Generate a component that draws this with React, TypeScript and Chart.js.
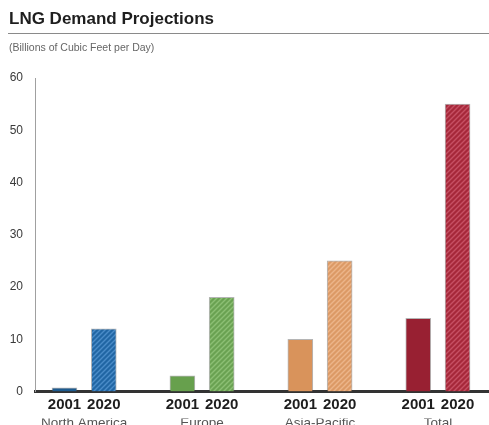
import React, { useEffect, useRef } from "react";
import { Chart, registerables } from "chart.js";

Chart.register(...registerables);

// LNG demand, billions of cubic feet per day
const regions = ["North America", "Europe", "Asia-Pacific", "Total"];
const years = ["2001", "2020"];
const demand2001 = [0.7, 3, 10, 14];
const demand2020 = [12, 18, 25, 55];
const yTicks = [0, 10, 20, 30, 40, 50, 60];

const solidColors = ["#1d5b8f", "#67a04d", "#d9935b", "#982032"];
const hatchBase = ["#2166a4", "#6aa252", "#dc9a66", "#a6283a"];
const hatchStripe = ["#4a8cc8", "#8cbf74", "#ecb58a", "#c65064"];

function makeHatch(base: string, stripe: string): CanvasPattern | string {
  const size = 5;
  const c = document.createElement("canvas");
  c.width = size;
  c.height = size;
  const ctx = c.getContext("2d");
  if (!ctx) return base;
  ctx.fillStyle = base;
  ctx.fillRect(0, 0, size, size);
  ctx.strokeStyle = stripe;
  ctx.lineWidth = 1.4;
  ctx.beginPath();
  ctx.moveTo(0, size);
  ctx.lineTo(size, 0);
  ctx.moveTo(-1, 1);
  ctx.lineTo(1, -1);
  ctx.moveTo(size - 1, size + 1);
  ctx.lineTo(size + 1, size - 1);
  ctx.stroke();
  return ctx.createPattern(c, "repeat") || base;
}

// thin rule under the title
const titleRule = {
  id: "titleRule",
  beforeDraw(chart: Chart) {
    const { ctx, width } = chart;
    ctx.save();
    ctx.strokeStyle = "#8a8a8a";
    ctx.lineWidth = 1.2;
    ctx.beginPath();
    ctx.moveTo(8, 33.5);
    ctx.lineTo(width, 33.5);
    ctx.stroke();
    ctx.restore();
  },
};

const barSlot = (group: number, yearIdx: number) => group * 3 + yearIdx;

export default function App() {
  const ref = useRef<HTMLCanvasElement | null>(null);

  useEffect(() => {
    if (!ref.current) return;
    const yearPositions: number[] = [];
    const yearLabels: string[] = [];
    regions.forEach((_, g) => {
      years.forEach((yr, k) => {
        yearPositions.push(barSlot(g, k));
        yearLabels.push(yr);
      });
    });
    const regionPositions = regions.map((_, g) => barSlot(g, 0.5));

    const chart = new Chart(ref.current, {
      type: "bar",
      data: {
        datasets: [
          {
            label: years[0],
            data: demand2001.map((v, i) => ({ x: barSlot(i, 0), y: v })),
            backgroundColor: solidColors,
            borderColor: "rgba(90,90,90,0.45)",
            borderWidth: 1,
            barThickness: 25,
            grouped: false,
          },
          {
            label: years[1],
            data: demand2020.map((v, i) => ({ x: barSlot(i, 1), y: v })),
            backgroundColor: hatchBase.map((b, i) => makeHatch(b, hatchStripe[i])),
            borderColor: "rgba(90,90,90,0.45)",
            borderWidth: 1,
            barThickness: 25,
            grouped: false,
          },
        ],
      },
      options: {
        animation: false,
        responsive: false,
        devicePixelRatio: 1,
        layout: { padding: { left: 9, right: 0, top: 0, bottom: -3 } },
        plugins: {
          legend: { display: false },
          tooltip: { enabled: false },
          title: {
            display: true,
            text: "LNG Demand Projections",
            align: "start",
            color: "#1e1e1e",
            font: { family: "Liberation Sans", size: 17, weight: "bold", lineHeight: 1.2 },
            padding: { top: 9, bottom: 12 },
          },
          subtitle: {
            display: true,
            text: "(Billions of Cubic Feet per Day)",
            align: "start",
            color: "#666",
            font: { family: "Liberation Sans", size: 10.5, lineHeight: 1.2 },
            padding: { top: 0, bottom: 24 },
          },
        },
        scales: {
          x: {
            type: "linear",
            position: "bottom",
            offset: false,
            min: -0.75,
            max: 10.8,
            grid: { display: false, drawTicks: false, offset: false },
            border: { display: true, color: "#333", width: 3 },
            afterBuildTicks: (scale: any) => {
              scale.ticks = yearPositions.map((v) => ({ value: v }));
            },
            ticks: {
              autoSkip: false,
              maxRotation: 0,
              padding: 6,
              color: "#1e1e1e",
              font: { family: "Liberation Sans", size: 15, weight: "bold", lineHeight: 1 },
              callback: (value: any) => {
                const idx = yearPositions.indexOf(Number(value));
                return idx >= 0 ? yearLabels[idx] : "";
              },
            },
          },
          x2: {
            type: "linear",
            position: "bottom",
            offset: false,
            min: -0.75,
            max: 10.8,
            grid: { display: false, drawTicks: false, offset: false },
            border: { display: false },
            afterBuildTicks: (scale: any) => {
              scale.ticks = regionPositions.map((v) => ({ value: v }));
            },
            ticks: {
              autoSkip: false,
              maxRotation: 0,
              padding: -2,
              color: "#555",
              font: { family: "Liberation Sans", size: 13.5, lineHeight: 1 },
              callback: (value: any) => {
                const idx = regionPositions.indexOf(Number(value));
                return idx >= 0 ? regions[idx] : "";
              },
            },
          },
          y: {
            min: 0,
            max: 60,
            grid: { display: false, drawTicks: false },
            border: { display: true, color: "#a0a0a0", width: 1 },
            afterBuildTicks: (scale: any) => {
              scale.ticks = yTicks.map((v) => ({ value: v }));
            },
            afterFit: (scale: any) => {
              scale.width = 26;
            },
            ticks: {
              padding: 12,
              color: "#3a3a3a",
              font: { family: "Liberation Sans", size: 12 },
            },
          },
        },
      },
      plugins: [titleRule],
    });
    return () => chart.destroy();
  }, []);

  return (
    <div style={{ position: "fixed", left: 0, top: 0, width: 489, height: 425, background: "#fff" }}>
      <canvas ref={ref} width={489} height={425} style={{ display: "block" }} />
    </div>
  );
}
